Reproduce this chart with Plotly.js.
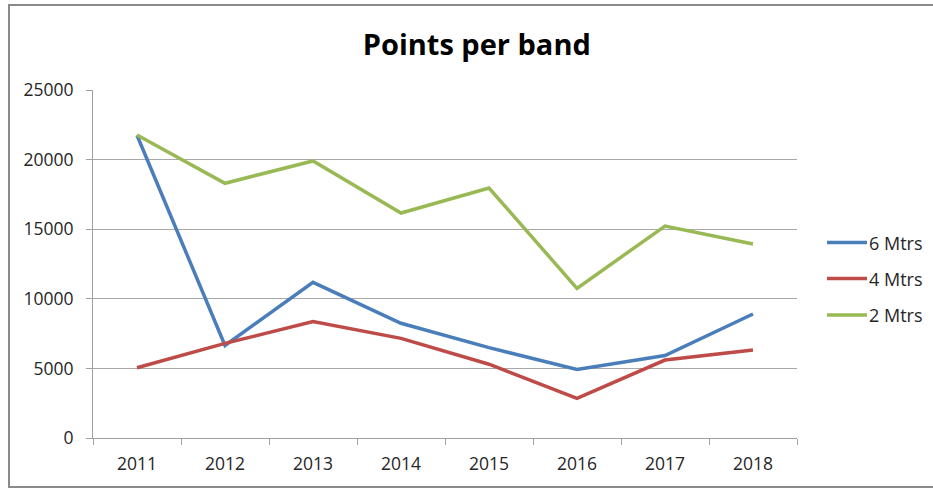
<!DOCTYPE html>
<html>
<head>
<meta charset="utf-8">
<script src="https://cdn.plot.ly/plotly-3.0.1.min.js"></script>
<style>html,body{margin:0;padding:0;background:#fff;} #chart{width:933px;height:490px;}</style>
</head>
<body>
<div id="chart"></div>
<script>
var years = ["2011","2012","2013","2014","2015","2016","2017","2018"];
var seriesNames = ["6 Mtrs","4 Mtrs","2 Mtrs"];
var mtrs6 = [21750, 6650, 11180, 8240, 6490, 4930, 5920, 8910];
var mtrs4 = [5050, 6800, 8360, 7160, 5300, 2850, 5600, 6330];
var mtrs2 = [21770, 18300, 19900, 16160, 17960, 10750, 15230, 13940];
var yTicks = [0, 5000, 10000, 15000, 20000, 25000];
var colors = ["#4a7ebb", "#be4b48", "#98b954"];

var font = "'Open Sans', 'Liberation Sans', sans-serif";
var allSeries = [mtrs6, mtrs4, mtrs2];
var traces = allSeries.map(function(vals, i){
  return {
    x: years, y: vals, type: "scatter", mode: "lines",
    name: seriesNames[i], showlegend: false,
    line: {color: colors[i], width: 3.5}
  };
});

// plot-area geometry (px) used to place the custom legend
var L = 93, T = 90, W = 704, H = 348;
function px2x(px){ return (px - L) / W; }
function px2y(py){ return (T + H - py) / H; }
var legendRowsY = [242.5, 278.5, 315];

var shapes = [{
  type: "rect", xref: "paper", yref: "paper",
  x0: px2x(9), x1: px2x(945), y0: px2y(487), y1: px2y(5),
  line: {color: "#8a8a8a", width: 2}, fillcolor: "rgba(0,0,0,0)", layer: "above"
}];
var annotations = [];
seriesNames.forEach(function(name, i){
  shapes.push({type: "line", xref: "paper", yref: "paper",
    x0: px2x(827), x1: px2x(867), y0: px2y(legendRowsY[i]), y1: px2y(legendRowsY[i]),
    line: {color: colors[i], width: 3.5}});
  annotations.push({xref: "paper", yref: "paper", x: px2x(867), y: px2y(legendRowsY[i]),
    xanchor: "left", yanchor: "middle", text: name, showarrow: false,
    font: {family: font, size: 18, color: "#262626"}});
});

var layout = {
  width: 933, height: 490,
  margin: {l: L, r: 933 - L - W, t: T, b: 490 - T - H},
  paper_bgcolor: "#fff", plot_bgcolor: "#fff",
  font: {family: font, size: 17, color: "#262626"},
  title: {text: "<b>Points per band</b>", font: {family: font, size: 29, color: "#000"},
          x: 0.511, xref: "container", y: 0.908, yref: "container", xanchor: "center", yanchor: "middle"},
  showlegend: false,
  xaxis: {
    type: "category", range: [-0.5, 7.5], tickson: "boundaries",
    ticks: "outside", ticklen: 6, tickcolor: "#a0a0a0", tickwidth: 1,
    showline: true, linecolor: "#a0a0a0", linewidth: 1,
    showgrid: false, zeroline: false,
    tickfont: {family: font, size: 17.5, color: "#262626"}, ticklabelstandoff: 10
  },
  yaxis: {
    range: [0, 25000], tickvals: yTicks, ticktext: yTicks.map(String),
    ticks: "outside", ticklen: 6, tickcolor: "#a0a0a0", tickwidth: 1,
    showline: true, linecolor: "#a0a0a0", linewidth: 1,
    showgrid: true, gridcolor: "#a8a8a8", gridwidth: 1, zeroline: false,
    tickfont: {family: font, size: 17.5, color: "#262626"}, ticklabelstandoff: 9
  },
  shapes: shapes,
  annotations: annotations
};

Plotly.newPlot("chart", traces, layout, {displayModeBar: false, staticPlot: true});
</script>
</body>
</html>
